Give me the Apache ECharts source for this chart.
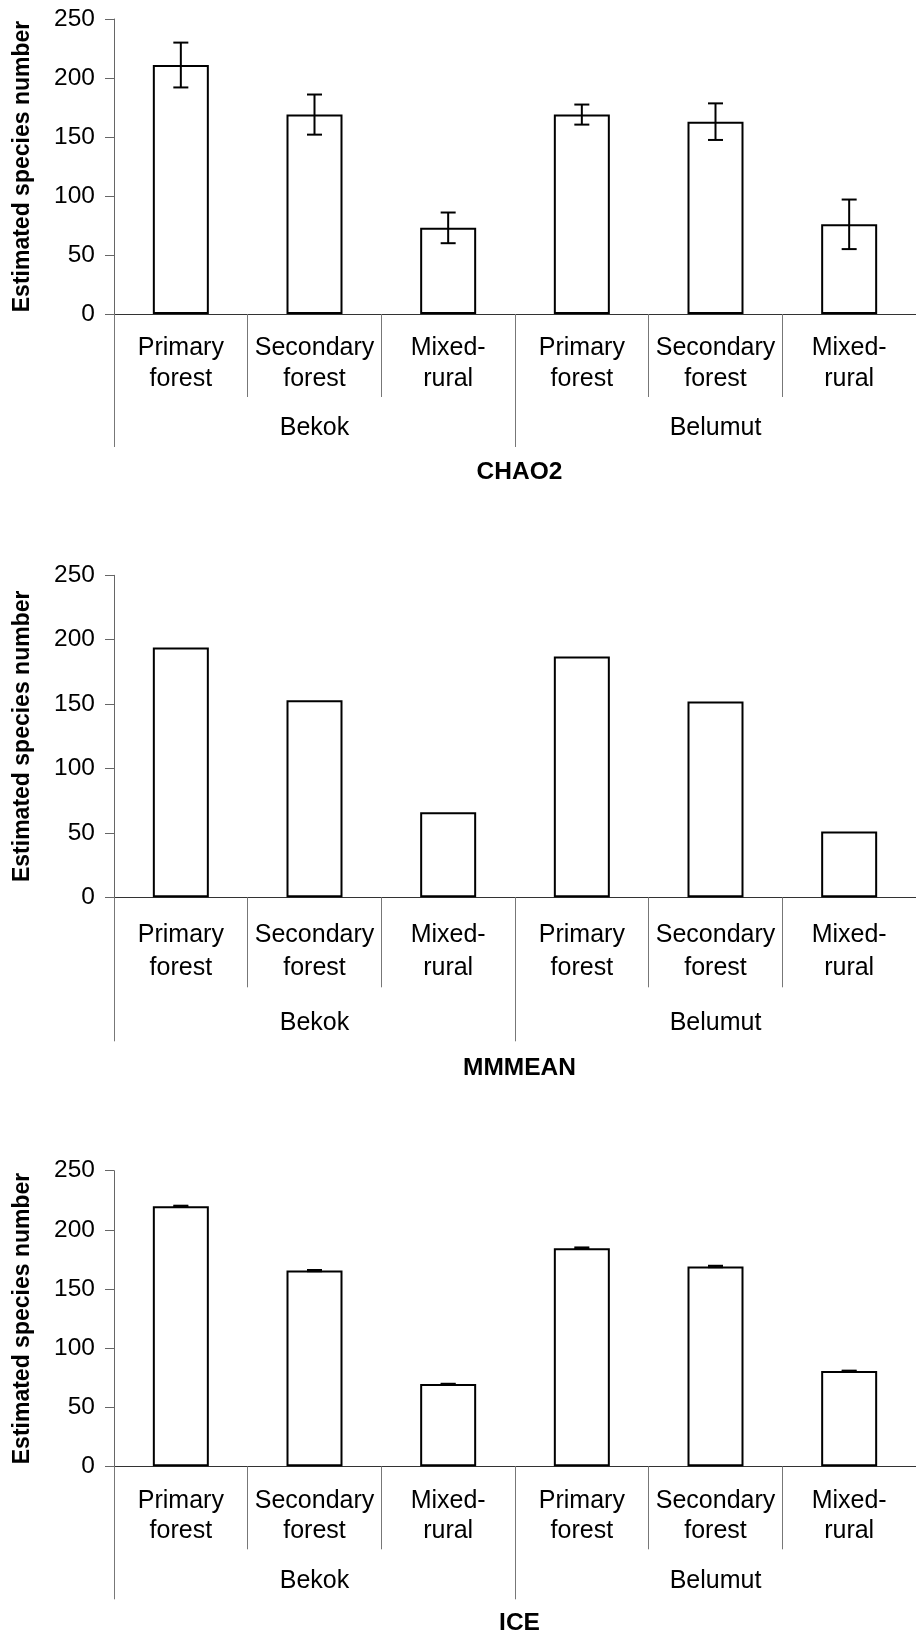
<!DOCTYPE html>
<html>
<head>
<meta charset="utf-8">
<script src="https://cdn.jsdelivr.net/npm/echarts@6/dist/echarts.min.js"></script>
<style>
  html, body { margin: 0; padding: 0; background: #fff; }
  #chart { width: 916px; height: 1637px; }
</style>
</head>
<body>
<div id="chart"></div>
<script>
// Habitat categories (two study sites, three habitats each)
const habitats = ['Primary\nforest', 'Secondary\nforest', 'Mixed-\nrural',
                  'Primary\nforest', 'Secondary\nforest', 'Mixed-\nrural'];
const sites = ['Bekok', 'Belumut'];
const yTicks = [0, 50, 100, 150, 200, 250];

// Estimator results
const chao2 = [211, 169, 73, 169, 163, 76];
const chao2Err = [19, 17, 13, 8.5, 15.5, 21];
const mmmean = [194, 153, 66, 187, 152, 51];
const ice = [220, 165.5, 69.5, 184.5, 169, 80.5];
const iceErr = [0.4, 0.5, 0.3, 0.6, 0.6, 0.4];

const FONT = "'Liberation Sans', Arial, Helvetica, sans-serif";

// Layout of the three stacked panels
const panels = [
  { title: 'CHAO2',  values: chao2,  err: chao2Err, top: 19,     height: 295,
    catMargin: 18.5, lineH: 31,   catTick: 83, siteMargin: 99,  siteTick: 133, titleY: 472 },
  { title: 'MMMEAN', values: mmmean, err: null,     top: 575.3,  height: 322,
    catMargin: 21,   lineH: 33.4, catTick: 90, siteMargin: 110, siteTick: 144, titleY: 1068.5 },
  { title: 'ICE',    values: ice,    err: iceErr,   top: 1170.7, height: 295.6,
    catMargin: 19.5, lineH: 30.5, catTick: 83, siteMargin: 99.5, siteTick: 133, titleY: 1623.5 }
];

const GRID_LEFT = 114;
const GRID_WIDTH = 811;

const grid = [], xAxis = [], yAxis = [], series = [], graphic = [];

panels.forEach((p, i) => {
  grid.push({ left: GRID_LEFT, top: p.top, width: GRID_WIDTH, height: p.height, containLabel: false });

  // habitat axis
  xAxis.push({
    type: 'category', gridIndex: i, data: habitats, position: 'bottom',
    axisLine: { show: true, lineStyle: { color: '#333', width: 1 } },
    axisTick: { show: true, interval: 0, length: p.catTick, lineStyle: { color: '#777', width: 1 } },
    axisLabel: { interval: 0, margin: p.catMargin, color: '#000', fontSize: 25,
                 fontFamily: FONT, lineHeight: p.lineH, align: 'center' },
    splitLine: { show: false }
  });
  // site axis
  xAxis.push({
    type: 'category', gridIndex: i, data: sites, position: 'bottom',
    axisLine: { show: false },
    axisTick: { show: true, interval: 0, length: p.siteTick, lineStyle: { color: '#777', width: 1 } },
    axisLabel: { interval: 0, margin: p.siteMargin, color: '#000', fontSize: 25,
                 fontFamily: FONT, lineHeight: 31 },
    splitLine: { show: false }
  });

  yAxis.push({
    type: 'value', gridIndex: i, min: yTicks[0], max: yTicks[yTicks.length - 1], interval: 50,
    name: 'Estimated species number', nameLocation: 'middle', nameRotate: 90, nameGap: 80,
    nameTextStyle: { color: '#000', fontSize: 23, fontWeight: 'bold', fontFamily: FONT },
    axisLine: { show: true, lineStyle: { color: '#666', width: 1 } },
    axisTick: { show: true, inside: false, length: 9, lineStyle: { color: '#666', width: 1 } },
    axisLabel: { color: '#000', fontSize: 24.5, fontFamily: FONT, margin: 19 },
    splitLine: { show: false }
  });

  series.push({
    type: 'bar', xAxisIndex: i * 2, yAxisIndex: i,
    data: p.values.map((v, k) => [k, v]),
    barWidth: 56,
    itemStyle: { color: '#fff', borderColor: '#000', borderWidth: 2 },
    silent: true, animation: false, z: 2
  });

  if (p.err) {
    series.push({
      type: 'custom', xAxisIndex: i * 2, yAxisIndex: i,
      data: p.values.map((v, k) => [k, v, p.err[k]]),
      encode: { x: 0, y: 1 },
      z: 5, silent: true, animation: false,
      renderItem: (params, api) => {
        const x = api.value(0), v = api.value(1), e = api.value(2);
        const hi = api.coord([x, v + e]);
        const lo = api.coord([x, v - e]);
        const half = 7.5;
        const st = { stroke: '#000', lineWidth: 2 };
        return {
          type: 'group',
          children: [
            { type: 'line', shape: { x1: hi[0], y1: hi[1], x2: lo[0], y2: lo[1] }, style: st },
            { type: 'line', shape: { x1: hi[0] - half, y1: hi[1], x2: hi[0] + half, y2: hi[1] }, style: st },
            { type: 'line', shape: { x1: lo[0] - half, y1: lo[1], x2: lo[0] + half, y2: lo[1] }, style: st }
          ]
        };
      }
    });
  }

  graphic.push({
    type: 'text', x: GRID_LEFT + GRID_WIDTH / 2, y: p.titleY, silent: true,
    style: { text: p.title, fill: '#000', fontSize: 24.5, fontWeight: 'bold', fontFamily: FONT,
             align: 'center', verticalAlign: 'middle' }
  });
});

const chart = echarts.init(document.getElementById('chart'), null, { renderer: 'canvas' });
chart.setOption({
  animation: false,
  backgroundColor: '#fff',
  grid, xAxis, yAxis, series, graphic
});
</script>
</body>
</html>
